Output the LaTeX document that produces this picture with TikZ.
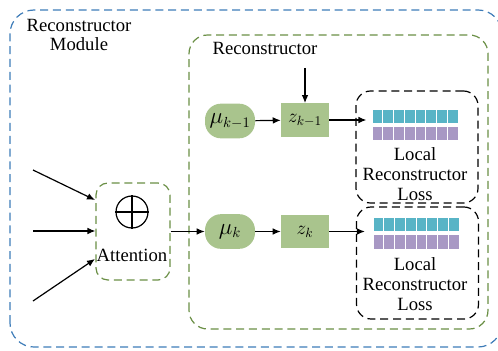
\documentclass[tikz,border=0pt]{standalone}
\usepackage{fontspec}
\setmainfont{Liberation Serif}
\usepackage{tikz}
\usetikzlibrary{arrows.meta, positioning}
\definecolor{modblue}{RGB}{62,124,184}
\definecolor{recgreen}{RGB}{106,143,69}
\definecolor{varfill}{RGB}{169,196,141}
\definecolor{cellcyan}{RGB}{88,180,198}
\definecolor{cellpurple}{RGB}{168,152,196}

\begin{document}
\begin{tikzpicture}[
  x=0.75pt, y=0.75pt,
  font=\fontsize{14}{14.8}\selectfont,
  longdash/.style={dash pattern=on 6pt off 3.6pt, line width=0.9pt},
  module/.style={draw=modblue, longdash, rounded corners=18pt},
  group/.style={draw=recgreen, longdash, rounded corners=14pt},
  lossbox/.style={draw=black, longdash, rounded corners=11pt, minimum width=91.5pt, minimum height=84pt},
  mu/.style={fill=varfill, rounded corners=12pt, minimum width=37.5pt, minimum height=26pt, inner sep=0pt, font=\fontsize{16}{16}\selectfont},
  zvar/.style={fill=varfill, minimum width=36pt, minimum height=25pt, inner sep=0pt},
  flow/.style={line width=0.9pt, -{Latex[length=6pt, width=5pt]}},
  cell/.style={draw=white, line width=0.7pt}
]
  \useasboundingbox (0,0) rectangle (498,350);

  % outer module and reconstructor group
  \draw[module] (10,3) rectangle (502,340);
  \node[align=center] (modlabel) at (79,315) {Reconstructor\\Module};
  \draw[group] (189,21) rectangle (488,315);
  \node (reclabel) at (265,302) {Reconstructor};

  % attention block
  \node[group, rounded corners=9pt, minimum width=55.5pt, minimum height=72.75pt] (att) at (133,118.5) {};
  \node[circle, draw, line width=0.9pt, minimum size=24pt, inner sep=0pt] (plus) at (132,138) {};
  \draw[line width=0.9pt] (plus.north) -- (plus.south) (plus.west) -- (plus.east);
  \node (attlabel) at (132,95) {Attention};

  \coordinate (in1) at (33,180);
  \coordinate (in2) at (33,119);
  \coordinate (in3) at (33,49);
  \draw[flow] (in1) -- (95,150);
  \draw[flow] (in2) -- (att.west |- in2);
  \draw[flow] (in3) -- (95,91);

  % step k-1
  \node[mu] (muA) at (230,229) {$\mu_{k-1}$};
  \node[zvar] (zA) at (305,230) {$z_{k-1}$};
  \coordinate (zin) at (305,282);
  \node[lossbox] (lossA) at (417,203) {};
  \node[align=center] (lossAtext) at (415,176) {Local\\Reconstructor\\Loss};
  \draw[flow] (zin) -- (zA);
  \draw[flow] (muA) -- (zA);
  \draw[flow] (zA) -- (lossA.west |- zA) -- ++(11,0);

  % step k
  \node[mu] (muB) at (230,118.5) {$\mu_k$};
  \node[zvar] (zB) at (305,118.5) {$z_k$};
  \node[lossbox] (lossB) at (417.5,87) {};
  \node[align=center] (lossBtext) at (415,66) {Local\\Reconstructor\\Loss};
  \draw[flow] (att.east |- muB) -- (muB);
  \draw[flow] (muB) -- (zB);
  \draw[flow] (zB) -- (lossB.west |- zB) -- ++(9,0);

  % feature cells
  \foreach \i in {0,...,7} {
    \filldraw[cell, fill=cellcyan] ({372+10.75*\i},227) rectangle +(10.75,14);
    \filldraw[cell, fill=cellpurple] ({372+10.75*\i},210) rectangle +(10.75,14);
    \filldraw[cell, fill=cellcyan] ({373+10.75*\i},119) rectangle +(10.75,14);
    \filldraw[cell, fill=cellpurple] ({373+10.75*\i},101) rectangle +(10.75,15);
  }
\end{tikzpicture}
\end{document}
